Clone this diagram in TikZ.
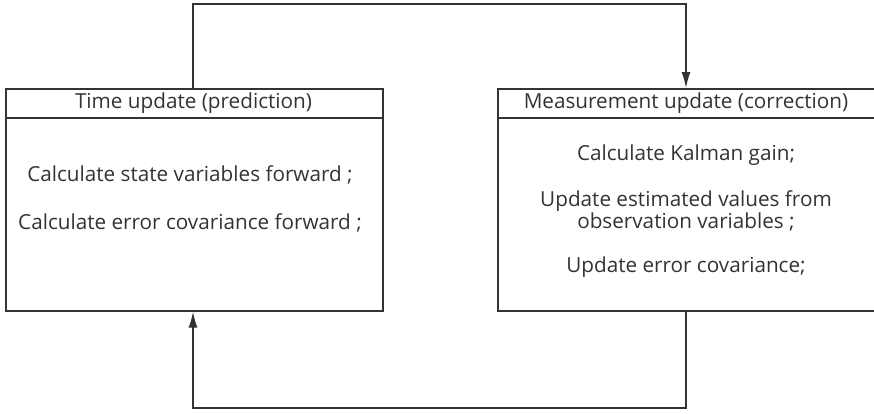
\documentclass[tikz,border=0pt]{standalone}
\usepackage{fontspec}
\setmainfont{Open Sans}
\usetikzlibrary{arrows.meta}
\definecolor{ink}{HTML}{333333}
\begin{document}
\begin{tikzpicture}[x=1pt,y=-1pt,
  frame/.style={draw=ink,line width=1.6pt},
  flow/.style={draw=ink,line width=1.6pt,-{Latex[length=16pt,width=9pt]}},
  label/.style={text=ink,font=\fontsize{20.7}{22}\selectfont,align=center,inner sep=0pt}]
\useasboundingbox (0,0) rectangle (874,413);
% left block: time update
\node[frame,minimum width=377pt,minimum height=222pt,anchor=north west,inner sep=0pt] (tu) at (5,88) {};
\draw[frame] (5,118) -- (382,118);
\node[label] (tuh) at (193.5,103) {Time update (prediction)};
\node[label] (tu1) at (190,175) {Calculate state variables forward ;};
\node[label] (tu2) at (190,223) {Calculate error covariance forward ;};
% right block: measurement update
\node[frame,minimum width=377pt,minimum height=222pt,anchor=north west,inner sep=0pt] (mu) at (497,88) {};
\draw[frame] (497,118) -- (874,118);
\node[label] (muh) at (686,103) {Measurement update (correction)};
\node[label] (mu1) at (686,155) {Calculate Kalman gain;};
\node[label] (mu2) at (686,211) {Update estimated values from\\observation variables ;};
\node[label] (mu3) at (686,267) {Update error covariance;};
% feedback loop
\coordinate (tl) at (193,4);
\coordinate (tr) at (686,4);
\coordinate (bl) at (193,408);
\coordinate (br) at (686,408);
\draw[flow] (tu.north -| tl) -- (tl) -- (tr) -- (mu.north -| tr);
\draw[flow] (mu.south -| br) -- (br) -- (bl) -- (tu.south -| bl);
\end{tikzpicture}
\end{document}
